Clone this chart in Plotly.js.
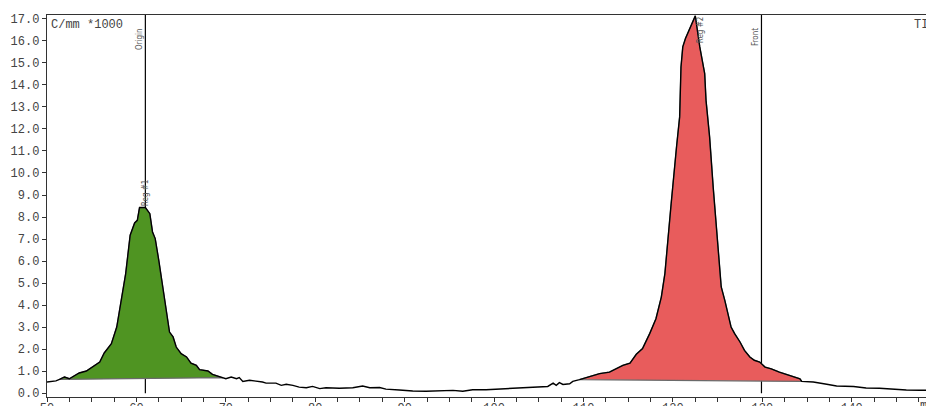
<!DOCTYPE html>
<html>
<head>
<meta charset="utf-8">
<script src="https://cdn.plot.ly/plotly-3.0.1.min.js"></script>
<style>html,body{margin:0;padding:0;background:#fff;}#chart{width:926px;height:406px;}</style>
</head>
<body>
<div id="chart"></div>
<script>
// Scan distance (mm) and signal (C/mm *1000)
const scanX = [50.0,50.6,51.0,51.4,51.96,52.5,53.0,53.6,54.4,55.1,55.9,56.4,57.2,57.8,58.3,58.8,59.3,59.8,60.1,60.35,61.0,61.5,61.8,62.1,62.5,62.95,63.3,63.7,64.1,64.45,65.0,65.6,66.1,66.7,67.06,68.0,68.5,69.3,70.0,70.6,71.2,71.5,71.9,72.65,73.4,74.1,74.5,75.6,76.2,76.75,77.5,78.2,79.0,79.7,80.5,81.2,82.7,84.2,85.3,86.1,87.2,87.9,89.4,90.9,92.4,93.9,95.4,96.5,97.6,99.1,100.6,102.1,103.6,105.1,106.0,106.6,106.95,107.3,107.7,108.45,108.8,109.55,110.7,111.8,112.9,113.7,114.4,115.2,115.9,116.6,117.4,118.1,118.7,119.1,119.4,119.8,120.4,120.75,120.9,121.1,121.4,121.9,122.5,123.0,123.55,123.7,124.1,124.5,124.85,125.15,125.4,125.8,126.15,126.5,126.9,127.5,128.0,128.6,129.1,129.7,130.3,131.0,131.9,133.05,134.2,134.4,135.7,137.2,138.3,140.2,141.6,143.1,144.6,146.1,147.6,148.3];
const scanY = [0.5,0.53,0.55,0.62,0.73,0.65,0.78,0.91,1.0,1.21,1.41,1.82,2.24,3.0,4.21,5.43,7.17,7.73,7.85,8.43,8.43,8.15,7.32,7.02,6.03,4.82,3.76,2.77,2.55,2.09,1.79,1.64,1.36,1.26,1.06,1.0,0.85,0.73,0.65,0.73,0.65,0.7,0.53,0.58,0.55,0.5,0.45,0.45,0.35,0.4,0.35,0.27,0.24,0.3,0.2,0.24,0.22,0.24,0.32,0.24,0.25,0.18,0.14,0.09,0.08,0.11,0.12,0.08,0.15,0.15,0.18,0.2,0.24,0.27,0.3,0.45,0.35,0.47,0.39,0.42,0.53,0.61,0.73,0.88,0.95,1.1,1.26,1.36,1.76,2.02,2.7,3.38,4.36,5.43,6.94,8.6,11.18,12.55,14.82,15.73,16.11,16.56,17.14,15.73,14.52,13.3,11.64,9.36,7.7,6.18,4.82,4.21,3.6,3.0,2.7,2.32,1.94,1.64,1.49,1.41,1.18,1.1,0.95,0.8,0.65,0.53,0.5,0.4,0.32,0.3,0.23,0.22,0.17,0.14,0.13,0.13];

// Integration regions: start/end distance and baseline values
const regionNames = ["Reg #1", "Reg #2"];
const regionStart = [51.4, 109.55];
const regionEnd = [69.6, 134.4];
const baseStart = [0.62, 0.61];
const baseEnd = [0.70, 0.53];
const regionColors = ["#4f9422", "#e85c5c"];

// Marker lines
const markerNames = ["Origin", "Front"];
const markerX = [61.0, 129.9];
const regionPeakX = [61.0, 122.5];

const xTickVals = [50,60,70,80,90,100,110,120,130,140];
const yTickVals = [0,1,2,3,4,5,6,7,8,9,10,11,12,13,14,15,16,17];

function interp(x) {
  for (let i = 0; i < scanX.length - 1; i++) {
    if (x >= scanX[i] && x <= scanX[i+1]) {
      const t = (x - scanX[i]) / (scanX[i+1] - scanX[i]);
      return scanY[i] + t * (scanY[i+1] - scanY[i]);
    }
  }
  return scanY[scanY.length-1];
}

const traces = [];
for (let r = 0; r < regionNames.length; r++) {
  const px = [regionStart[r]], py = [baseStart[r]];
  for (let i = 0; i < scanX.length; i++) {
    if (scanX[i] > regionStart[r] && scanX[i] < regionEnd[r]) { px.push(scanX[i]); py.push(scanY[i]); }
  }
  px.push(regionEnd[r]); py.push(interp(regionEnd[r]));
  px.push(regionEnd[r]); py.push(baseEnd[r]);
  px.push(regionStart[r]); py.push(baseStart[r]);
  traces.push({x: px, y: py, type: 'scatter', mode: 'lines', fill: 'toself',
    fillcolor: regionColors[r], line: {color: '#6a6a6a', width: 1.2}, hoverinfo: 'skip', showlegend: false});
}
traces.push({x: scanX, y: scanY, type: 'scatter', mode: 'lines',
  line: {color: '#000', width: 1.4}, showlegend: false});

const tickFont = {family: 'Liberation Mono, Courier New, monospace', size: 12, color: '#444'};
const smallFont = {family: 'DejaVu Sans Condensed, DejaVu Sans, sans-serif', size: 8, color: '#555'};

const shapes = markerX.map(mx => ({type: 'line', xref: 'x', yref: 'paper', x0: mx, x1: mx, y0: 0.01, y1: 1,
  line: {color: '#000', width: 1.2}, layer: 'below'}));

const annotations = [
  {xref: 'paper', yref: 'paper', x: 0, y: 1, xanchor: 'left', yanchor: 'top', xshift: 2, yshift: -1,
   text: 'C/mm *1000', showarrow: false, font: tickFont},
  {xref: 'paper', yref: 'paper', x: 1, y: 1, xanchor: 'left', yanchor: 'top', xshift: -14, yshift: -1,
   text: 'TIC', showarrow: false, font: tickFont},
  {xref: 'paper', yref: 'paper', x: 1, y: 0, xanchor: 'left', yanchor: 'top', xshift: -8, yshift: 0,
   text: 'mm', showarrow: false, font: tickFont},
  {xref: 'x', yref: 'y', x: markerX[0], y: 16.1, xshift: -6, textangle: -90, text: markerNames[0], showarrow: false, font: smallFont},
  {xref: 'x', yref: 'y', x: markerX[1], y: 16.2, xshift: -6, textangle: -90, text: markerNames[1], showarrow: false, font: smallFont},
  {xref: 'x', yref: 'y', x: regionPeakX[0], y: 9.1, xshift: 0, textangle: -90, text: regionNames[0], showarrow: false, font: smallFont},
  {xref: 'x', yref: 'y', x: regionPeakX[1], y: 16.5, xshift: 6, textangle: -90, text: regionNames[1], showarrow: false, font: smallFont}
];

const layout = {
  width: 926, height: 406,
  margin: {l: 47, r: 0, t: 15, b: 9, pad: 0},
  paper_bgcolor: '#fff', plot_bgcolor: '#fff',
  showlegend: false,
  xaxis: {range: [50, 148.3], tickvals: xTickVals, ticktext: xTickVals.map(String),
    showgrid: false, zeroline: false, showline: true, linecolor: '#333', linewidth: 1.2, mirror: true,
    ticks: 'outside', ticklen: 4, tickcolor: '#333', tickfont: tickFont, ticklabelstandoff: -5,
    minor: {dtick: 2.5, ticks: 'outside', ticklen: 4, tickcolor: '#333', showgrid: false}},
  yaxis: {range: [-0.18, 17.18], tickvals: yTickVals, ticktext: yTickVals.map(v => v.toFixed(1)),
    showgrid: false, zeroline: false, showline: true, linecolor: '#333', linewidth: 1.2,
    ticks: 'outside', ticklen: 4, tickcolor: '#333', tickfont: tickFont},
  shapes: shapes,
  annotations: annotations
};

Plotly.newPlot('chart', traces, layout, {displayModeBar: false, staticPlot: true});
</script>
</body>
</html>
